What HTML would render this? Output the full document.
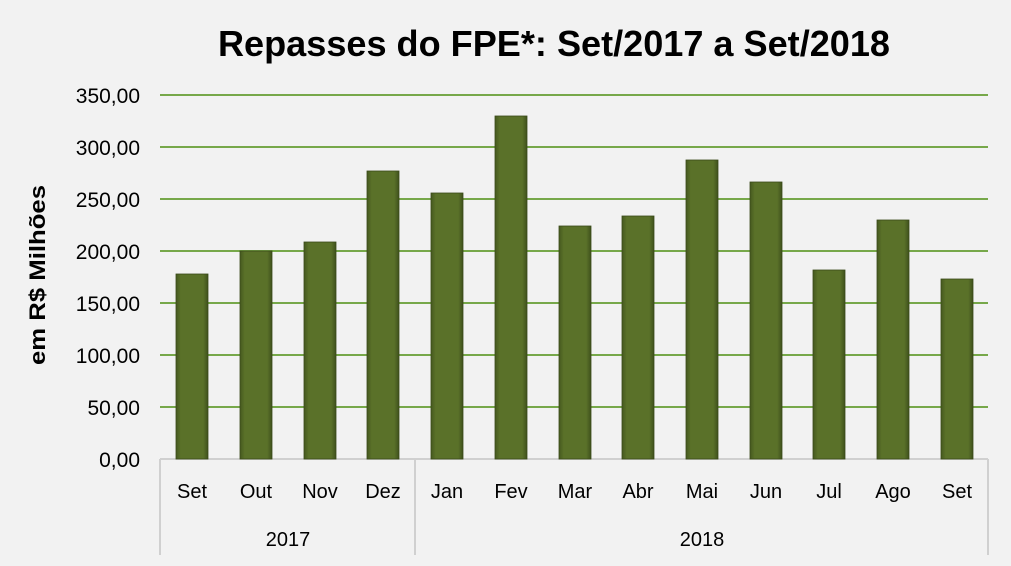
<!DOCTYPE html>
<html><head><meta charset="utf-8"><style>
html,body{margin:0;padding:0;background:#f2f2f2;}
svg{display:block;font-family:"Liberation Sans",Calibri,sans-serif;}
</style></head><body>
<svg width="1011" height="566" viewBox="0 0 1011 566" xmlns="http://www.w3.org/2000/svg">
<defs>
<linearGradient id="g" x1="0" x2="1" y1="0" y2="0">
<stop offset="0" stop-color="#46591f"/><stop offset="0.15" stop-color="#5a7129"/><stop offset="0.85" stop-color="#5a7129"/><stop offset="1" stop-color="#3f511c"/>
</linearGradient>
</defs>
<rect width="1011" height="566" fill="#f2f2f2"/>
<text x="218" y="56" textLength="672" lengthAdjust="spacingAndGlyphs" font-size="36" font-weight="bold" fill="#000">Repasses do FPE*: Set/2017 a Set/2018</text>
<text transform="translate(45,365) rotate(-90)" textLength="180" lengthAdjust="spacingAndGlyphs" font-size="22" font-weight="bold" fill="#000">em R$ Milhões</text>
<g stroke="#77a84a" stroke-width="2">
<line x1="160" x2="988" y1="95" y2="95"/><line x1="160" x2="988" y1="147" y2="147"/>
<line x1="160" x2="988" y1="199" y2="199"/><line x1="160" x2="988" y1="251" y2="251"/>
<line x1="160" x2="988" y1="303" y2="303"/><line x1="160" x2="988" y1="355" y2="355"/>
<line x1="160" x2="988" y1="407" y2="407"/>
</g>
<g font-size="21" fill="#000" text-anchor="end">
<text x="140" y="103">350,00</text><text x="140" y="155">300,00</text><text x="140" y="207">250,00</text>
<text x="140" y="259">200,00</text><text x="140" y="311">150,00</text><text x="140" y="363">100,00</text>
<text x="140" y="415">50,00</text><text x="140" y="467">0,00</text>
</g>
<g stroke="#d0d0d0" stroke-width="2">
<line x1="160" x2="988" y1="459" y2="459"/>
<line x1="160" x2="160" y1="459" y2="555"/><line x1="415" x2="415" y1="459" y2="555"/><line x1="988" x2="988" y1="459" y2="555"/>
</g>
<g fill="url(#g)" stroke="#3a4a1a" stroke-width="0.8">
<rect x="176" y="274" width="32" height="185"/>
<rect x="240" y="251" width="32" height="208"/>
<rect x="304" y="242" width="32" height="217"/>
<rect x="367" y="171" width="32" height="288"/>
<rect x="431" y="193" width="32" height="266"/>
<rect x="495" y="116" width="32" height="343"/>
<rect x="559" y="226" width="32" height="233"/>
<rect x="622" y="216" width="32" height="243"/>
<rect x="686" y="160" width="32" height="299"/>
<rect x="750" y="182" width="32" height="277"/>
<rect x="813" y="270" width="32" height="189"/>
<rect x="877" y="220" width="32" height="239"/>
<rect x="941" y="279" width="32" height="180"/>
</g>
<g font-size="20" fill="#000" text-anchor="middle">
<text x="192" y="498">Set</text><text x="256" y="498">Out</text><text x="320" y="498">Nov</text><text x="383" y="498">Dez</text>
<text x="447" y="498">Jan</text><text x="511" y="498">Fev</text><text x="575" y="498">Mar</text><text x="638" y="498">Abr</text>
<text x="702" y="498">Mai</text><text x="766" y="498">Jun</text><text x="829" y="498">Jul</text><text x="893" y="498">Ago</text>
<text x="957" y="498">Set</text>
<text x="288" y="546">2017</text><text x="702" y="546">2018</text>
</g>
</svg>
</body></html>
